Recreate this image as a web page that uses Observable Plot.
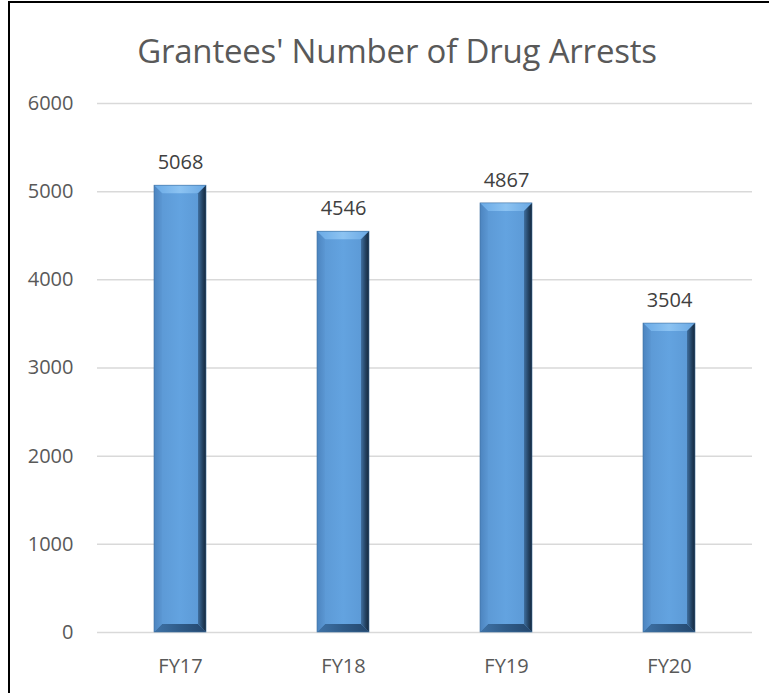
<!DOCTYPE html>
<html>
<head>
<meta charset="utf-8">
<script src="https://cdn.jsdelivr.net/npm/d3@7"></script>
<script src="https://cdn.jsdelivr.net/npm/@observablehq/plot@0.6"></script>
<style>
  html, body { margin: 0; padding: 0; background: #fff; overflow: hidden; }
  #frame {
    position: absolute; left: 8px; top: 1px; width: 761px; height: 700px;
    border-left: 2px solid #000; border-top: 2px solid #000; box-sizing: border-box;
  }
  #title {
    position: absolute; left: 0; width: 794px; top: 28px; text-align: center;
    font-size: 33px; color: #595959; font-family: "Open Sans", sans-serif; font-weight: 400;
    letter-spacing: -0.2px; line-height: 46px;
  }
  #chart { position: absolute; left: 0; top: 0; width: 772px; height: 693px; }
  #chart svg { max-width: none; }
</style>
</head>
<body>
<div id="frame"></div>
<div id="chart"></div>
<div id="title">Grantees' Number of Drug Arrests</div>
<script>
const years = ["FY17", "FY18", "FY19", "FY20"];
const arrests = [5068, 4546, 4867, 3504];
const yTicks = [0, 1000, 2000, 3000, 4000, 5000, 6000];

const data = years.map((y, i) => ({year: y, value: arrests[i]}));

function bevel(index, scales, values, dimensions, context, next) {
  const g = next(index, scales, values, dimensions, context);
  const ns = "http://www.w3.org/2000/svg";
  const rects = Array.from(g.querySelectorAll("rect"));
  for (const r of rects) {
    const x = +r.getAttribute("x"), y = +r.getAttribute("y");
    const w = +r.getAttribute("width"), h = +r.getAttribute("height");
    const b = 8;
    const add = (pts, fill) => {
      const p = document.createElementNS(ns, "polygon");
      p.setAttribute("points", pts.map(d => d.join(",")).join(" "));
      p.setAttribute("fill", fill);
      g.appendChild(p);
    };
    add([[x, y], [x + w, y], [x + w - b, y + b], [x + b, y + b]], "url(#gTop)");
    add([[x, y + h], [x + w, y + h], [x + w - b, y + h - b], [x + b, y + h - b]], "url(#gBot)");
    add([[x, y], [x + b, y + b], [x + b, y + h - b], [x, y + h]], "url(#gLeft)");
    add([[x + w, y], [x + w - b, y + b], [x + w - b, y + h - b], [x + w, y + h]], "url(#gRight)");
    const o = document.createElementNS(ns, "rect");
    o.setAttribute("x", x); o.setAttribute("y", y);
    o.setAttribute("width", w); o.setAttribute("height", h);
    o.setAttribute("fill", "none"); o.setAttribute("stroke", "#3d6f9f"); o.setAttribute("stroke-width", 0.6);
    g.appendChild(o);
  }
  return g;
}

const plot = Plot.plot({
  width: 772,
  height: 693,
  marginTop: 103,
  marginBottom: 61,
  marginLeft: 97,
  marginRight: 20,
  style: {fontFamily: "'Open Sans', sans-serif", fontSize: "20px", color: "#595959", background: "transparent", maxWidth: "none"},
  x: {domain: years, paddingInner: 0.68, paddingOuter: 0.34, label: null},
  y: {domain: [0, 6000], ticks: yTicks, label: null},
  marks: [
    Plot.gridY(yTicks, {stroke: "#d9d9d9", strokeOpacity: 1, strokeWidth: 1.5}),
    Plot.barY(data, {x: "year", y: "value", fill: "url(#gFace)", render: bevel}),
    Plot.text(data, {x: "year", y: "value", text: d => String(d.value), dy: -23, fontSize: 20, fill: "#404040"}),
    Plot.axisX({tickSize: 0, tickPadding: 26, fontSize: 20, fill: "#595959"}),
    Plot.axisY({ticks: yTicks, tickSize: 0, tickPadding: 24, fontSize: 20, fill: "#595959", tickFormat: d => String(d)})
  ]
});

const defs = `
<defs>
  <linearGradient id="gFace" x1="0" x2="1" y1="0" y2="0">
    <stop offset="0" stop-color="#5a96d2"/>
    <stop offset="0.5" stop-color="#63a3e0"/>
    <stop offset="1" stop-color="#5a97d3"/>
  </linearGradient>
  <linearGradient id="gTop" x1="0" x2="1" y1="0" y2="0">
    <stop offset="0" stop-color="#6aaae6"/>
    <stop offset="0.5" stop-color="#8cc3f2"/>
    <stop offset="1" stop-color="#6aa8e3"/>
  </linearGradient>
  <linearGradient id="gBot" x1="0" x2="1" y1="0" y2="0">
    <stop offset="0" stop-color="#3f73a8"/>
    <stop offset="0.5" stop-color="#2f5b88"/>
    <stop offset="1" stop-color="#24476d"/>
  </linearGradient>
  <linearGradient id="gLeft" x1="0" x2="1" y1="0" y2="0">
    <stop offset="0" stop-color="#4c84bf"/>
    <stop offset="1" stop-color="#5b97d3"/>
  </linearGradient>
  <linearGradient id="gRight" x1="0" x2="1" y1="0" y2="0">
    <stop offset="0" stop-color="#3f6f9f"/>
    <stop offset="0.6" stop-color="#22405f"/>
    <stop offset="1" stop-color="#15283c"/>
  </linearGradient>
</defs>`;
plot.insertAdjacentHTML("afterbegin", defs);
document.getElementById("chart").appendChild(plot);
</script>
</body>
</html>
